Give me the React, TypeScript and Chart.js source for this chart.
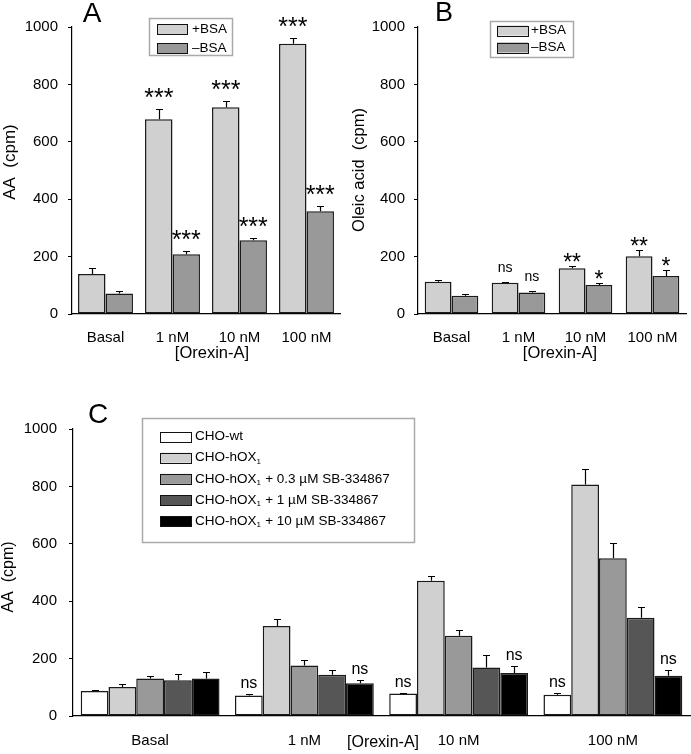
import React, { useEffect, useRef } from 'react';
import { Chart, registerables } from 'chart.js';
Chart.register(...registerables);

const FONT = "'Liberation Sans', Arial, sans-serif";

// ---- shared ----
const categories = ['Basal', '1 nM', '10 nM', '100 nM'];
const yTicks = [0, 200, 400, 600, 800, 1000];

// ---- Panel A: AA (cpm) ----
const aPlusBSA = [139, 679, 720, 942];
const aPlusBSAErr = [20, 35, 21, 19];
const aPlusBSASig = ['', '***', '***', '***'];
const aMinusBSA = [71, 208, 257, 358];
const aMinusBSAErr = [9, 11, 8, 18];
const aMinusBSASig = ['', '***', '***', '***'];

// ---- Panel B: Oleic acid (cpm) ----
const bPlusBSA = [112, 109, 159, 201];
const bPlusBSAErr = [8, 3, 8, 21];
const bPlusBSASig = ['', 'ns', '**', '**'];
const bMinusBSA = [64, 75, 101, 132];
const bMinusBSAErr = [4, 5, 8, 21];
const bMinusBSASig = ['', 'ns', '*', '*'];

// ---- Panel C: AA (cpm) ----
const cWt = [87, 71, 78, 74];
const cWtErr = [5, 4, 3, 7];
const cWtSig = ['', 'ns', 'ns', 'ns'];
const cHox = [101, 314, 471, 807];
const cHoxErr = [11, 25, 17, 54];
const cSb03 = [131, 176, 280, 550];
const cSb03Err = [10, 18, 18, 52];
const cSb1 = [125, 144, 169, 342];
const cSb1Err = [20, 15, 42, 39];
const cSb10 = [131, 114, 150, 140];
const cSb10Err = [23, 10, 23, 19];
const cSb10Sig = ['', 'ns', 'ns', 'ns'];
const none = ['', '', '', ''];

const labelsAB = ['+BSA', '\u2013BSA'];
const labelsC = [
  'CHO-wt',
  'CHO-hOX\u2081',
  'CHO-hOX\u2081 + 0.3 \u00b5M SB-334867',
  'CHO-hOX\u2081 + 1 \u00b5M SB-334867',
  'CHO-hOX\u2081 + 10 \u00b5M SB-334867',
];

const WHITE = '#ffffff';
const LIGHT = '#d0d0d0';
const MID = '#999999';
const DARK = '#565656';
const BLACK = '#000000';

type Series = { label: string; data: number[]; err: number[]; sig: string[]; color: string };

type Spec = {
  left: number; top: number; width: number; height: number;
  area: { left: number; right: number; top: number; bottom: number };
  series: Series[];
  catPct: number;
  tickSize: number; yTickPad: number; xTickSize: number; xTickPad: number;
  yTitle: string; yTitleX: number; yTitleY: number; yTitleSize: number;
  xTitle: string; xTitleX: number; xTitleY: number; xTitleSize: number;
  letter: string; letterX: number; letterY: number; letterSize: number;
  legend: { x: number; y: number; w: number; h: number; swX: number; swW: number; swH: number; textX: number; row0: number; rowStep: number; size: number };
  starSize: number; starOff: number; nsSize: number; nsOff: number;
};

function drawText(ctx: CanvasRenderingContext2D, text: string, x: number, y: number, size: number) {
  // handles subscript "₁"
  const parts = text.split('\u2081');
  let cx = x;
  parts.forEach((p, i) => {
    ctx.font = `${size}px ${FONT}`;
    ctx.fillText(p, cx, y);
    cx += ctx.measureText(p).width;
    if (i < parts.length - 1) {
      const ss = Math.round(size * 0.6);
      ctx.font = `${ss}px ${FONT}`;
      ctx.fillText('1', cx, y + size * 0.28);
      cx += ctx.measureText('1').width + 0.5;
    }
  });
}

function Panel({ s }: { s: Spec }) {
  const ref = useRef<HTMLCanvasElement>(null);
  useEffect(() => {
    const canvas = ref.current!;
    const extras = {
      id: 'extras',
      afterDatasetsDraw(chart: any) {
        const ctx: CanvasRenderingContext2D = chart.ctx;
        const yScale = chart.scales.y;
        ctx.save();
        s.series.forEach((ser, i) => {
          const meta = chart.getDatasetMeta(i);
          meta.data.forEach((el: any, j: number) => {
            const x = Math.round(el.x) + 0.5;
            const yBar = el.y;
            const yErr = Math.round(yScale.getPixelForValue(ser.data[j] + ser.err[j])) + 0.5;
            ctx.strokeStyle = '#000';
            ctx.lineWidth = 1.2;
            ctx.beginPath();
            ctx.moveTo(x, yBar);
            ctx.lineTo(x, yErr);
            ctx.moveTo(x - 3.5, yErr);
            ctx.lineTo(x + 3.5, yErr);
            ctx.stroke();
            const sig = ser.sig[j];
            if (sig) {
              ctx.fillStyle = '#000';
              ctx.textAlign = 'center';
              ctx.textBaseline = 'alphabetic';
              if (sig === 'ns') {
                ctx.font = `${s.nsSize}px ${FONT}`;
                ctx.fillText(sig, el.x, yErr - s.nsOff);
              } else {
                ctx.font = `${s.starSize}px ${FONT}`;
                ctx.fillText(sig, el.x, yErr - s.starOff);
              }
            }
          });
        });
        ctx.restore();
      },
      afterDraw(chart: any) {
        const ctx: CanvasRenderingContext2D = chart.ctx;
        ctx.save();
        ctx.fillStyle = '#000';
        // panel letter
        ctx.textAlign = 'center';
        ctx.textBaseline = 'alphabetic';
        ctx.font = `${s.letterSize}px ${FONT}`;
        ctx.fillText(s.letter, s.letterX, s.letterY);
        // y title
        ctx.save();
        ctx.translate(s.yTitleX, s.yTitleY);
        ctx.rotate(-Math.PI / 2);
        ctx.textBaseline = 'middle';
        ctx.font = `${s.yTitleSize}px ${FONT}`;
        ctx.fillText(s.yTitle, 0, 0);
        ctx.restore();
        // x title
        ctx.textBaseline = 'middle';
        ctx.font = `${s.xTitleSize}px ${FONT}`;
        ctx.fillText(s.xTitle, s.xTitleX, s.xTitleY);
        // legend
        const L = s.legend;
        ctx.fillStyle = '#fff';
        ctx.fillRect(L.x, L.y, L.w, L.h);
        ctx.strokeStyle = '#aaaaaa';
        ctx.lineWidth = 1.5;
        ctx.strokeRect(L.x, L.y, L.w, L.h);
        s.series.forEach((ser, i) => {
          const cy = L.row0 + i * L.rowStep;
          ctx.fillStyle = ser.color;
          ctx.fillRect(L.swX, cy - L.swH / 2, L.swW, L.swH);
          ctx.strokeStyle = '#111';
          ctx.lineWidth = 1;
          ctx.strokeRect(L.swX + 0.5, Math.round(cy - L.swH / 2) + 0.5, L.swW, L.swH);
          ctx.fillStyle = '#000';
          ctx.textAlign = 'left';
          ctx.textBaseline = 'middle';
          drawText(ctx, ser.label, L.textX, cy, L.size);
        });
        ctx.restore();
      },
    };

    const chart = new Chart(canvas, {
      type: 'bar',
      data: {
        labels: categories,
        datasets: s.series.map((ser) => ({
          label: ser.label,
          data: ser.data,
          backgroundColor: ser.color,
          borderColor: '#1a1a1a',
          borderWidth: 1.5,
          borderSkipped: false,
          categoryPercentage: s.catPct,
          barPercentage: 1,
        })),
      },
      options: {
        responsive: false,
        animation: false,
        devicePixelRatio: 1,
        layout: {
          padding: { left: 0, top: s.area.top, right: s.width - s.area.right, bottom: 0 },
        },
        plugins: { legend: { display: false }, tooltip: { enabled: false }, title: { display: false } },
        scales: {
          x: {
            grid: { display: false },
            border: { display: true, color: '#000', width: 1.2 },
            ticks: {
              font: { family: FONT, size: s.xTickSize },
              color: '#000',
              padding: s.xTickPad,
              maxRotation: 0,
              autoSkip: false,
            },
            afterFit: (scale: any) => {
              scale.height = s.height - s.area.bottom;
            },
          },
          y: {
            min: 0,
            max: 1000,
            afterBuildTicks: (scale: any) => {
              scale.ticks = yTicks.map((v) => ({ value: v }));
            },
            ticks: {
              font: { family: FONT, size: s.tickSize },
              color: '#000',
              padding: s.yTickPad,
              callback: (v: any) => String(v),
            },
            grid: { drawOnChartArea: false, drawTicks: true, tickLength: 4, color: '#000', lineWidth: 1 },
            border: { display: true, color: '#000', width: 1.2 },
            afterFit: (scale: any) => {
              scale.width = s.area.left;
            },
          },
        },
      },
      plugins: [extras],
    } as any);
    return () => chart.destroy();
  }, [s]);
  return (
    <canvas
      ref={ref}
      width={s.width}
      height={s.height}
      style={{ position: 'absolute', left: s.left, top: s.top, width: s.width, height: s.height }}
    />
  );
}

const specA: Spec = {
  left: 0, top: 0, width: 345, height: 370,
  area: { left: 72, right: 340, top: 27, bottom: 314 },
  series: [
    { label: labelsAB[0], data: aPlusBSA, err: aPlusBSAErr, sig: aPlusBSASig, color: LIGHT },
    { label: labelsAB[1], data: aMinusBSA, err: aMinusBSAErr, sig: aMinusBSASig, color: MID },
  ],
  catPct: 0.82,
  tickSize: 15, yTickPad: 10, xTickSize: 15, xTickPad: 7,
  yTitle: 'AA  (cpm)', yTitleX: 10, yTitleY: 162, yTitleSize: 17,
  xTitle: '[Orexin-A]', xTitleX: 212, xTitleY: 353, xTitleSize: 16.5,
  letter: 'A', letterX: 92, letterY: 22, letterSize: 28,
  legend: { x: 149.5, y: 18.5, w: 83, h: 37, swX: 157, swW: 30, swH: 10, textX: 192, row0: 29, rowStep: 19, size: 13.5 },
  starSize: 25, starOff: 4, nsSize: 15, nsOff: 11,
};

const specB: Spec = {
  left: 345, top: 0, width: 346, height: 370,
  area: { left: 73, right: 341, top: 27, bottom: 314 },
  series: [
    { label: labelsAB[0], data: bPlusBSA, err: bPlusBSAErr, sig: bPlusBSASig, color: LIGHT },
    { label: labelsAB[1], data: bMinusBSA, err: bMinusBSAErr, sig: bMinusBSASig, color: MID },
  ],
  catPct: 0.8,
  tickSize: 15, yTickPad: 9, xTickSize: 15, xTickPad: 7,
  yTitle: 'Oleic acid  (cpm)', yTitleX: 14, yTitleY: 170, yTitleSize: 16.5,
  xTitle: '[Orexin-A]', xTitleX: 215, xTitleY: 353, xTitleSize: 16.5,
  letter: 'B', letterX: 99, letterY: 21, letterSize: 27,
  legend: { x: 145.5, y: 21.5, w: 83, h: 36, swX: 152, swW: 31, swH: 10, textX: 186, row0: 30.5, rowStep: 17, size: 13.5 },
  starSize: 23, starOff: -3, nsSize: 14, nsOff: 11,
};

const specC: Spec = {
  left: 0, top: 370, width: 691, height: 384,
  area: { left: 73, right: 690, top: 59, bottom: 346 },
  series: [
    { label: labelsC[0], data: cWt, err: cWtErr, sig: cWtSig, color: WHITE },
    { label: labelsC[1], data: cHox, err: cHoxErr, sig: none, color: LIGHT },
    { label: labelsC[2], data: cSb03, err: cSb03Err, sig: none, color: MID },
    { label: labelsC[3], data: cSb1, err: cSb1Err, sig: none, color: DARK },
    { label: labelsC[4], data: cSb10, err: cSb10Err, sig: cSb10Sig, color: BLACK },
  ],
  catPct: 0.9,
  tickSize: 15, yTickPad: 12, xTickSize: 15, xTickPad: 8,
  yTitle: 'AA  (cpm)', yTitleX: 9, yTitleY: 207, yTitleSize: 16,
  xTitle: '[Orexin-A]', xTitleX: 383, xTitleY: 373, xTitleSize: 16,
  letter: 'C', letterX: 98, letterY: 53, letterSize: 28,
  legend: { x: 142.5, y: 48.5, w: 272, h: 124, swX: 160, swW: 31, swH: 10, textX: 195, row0: 66.5, rowStep: 21.2, size: 13.5 },
  starSize: 23, starOff: 4, nsSize: 16, nsOff: 7,
};

export default function App() {
  return (
    <div style={{ position: 'absolute', left: 0, top: 0, width: 691, height: 754, background: '#fff' }}>
      <Panel s={specA} />
      <Panel s={specB} />
      <Panel s={specC} />
    </div>
  );
}
